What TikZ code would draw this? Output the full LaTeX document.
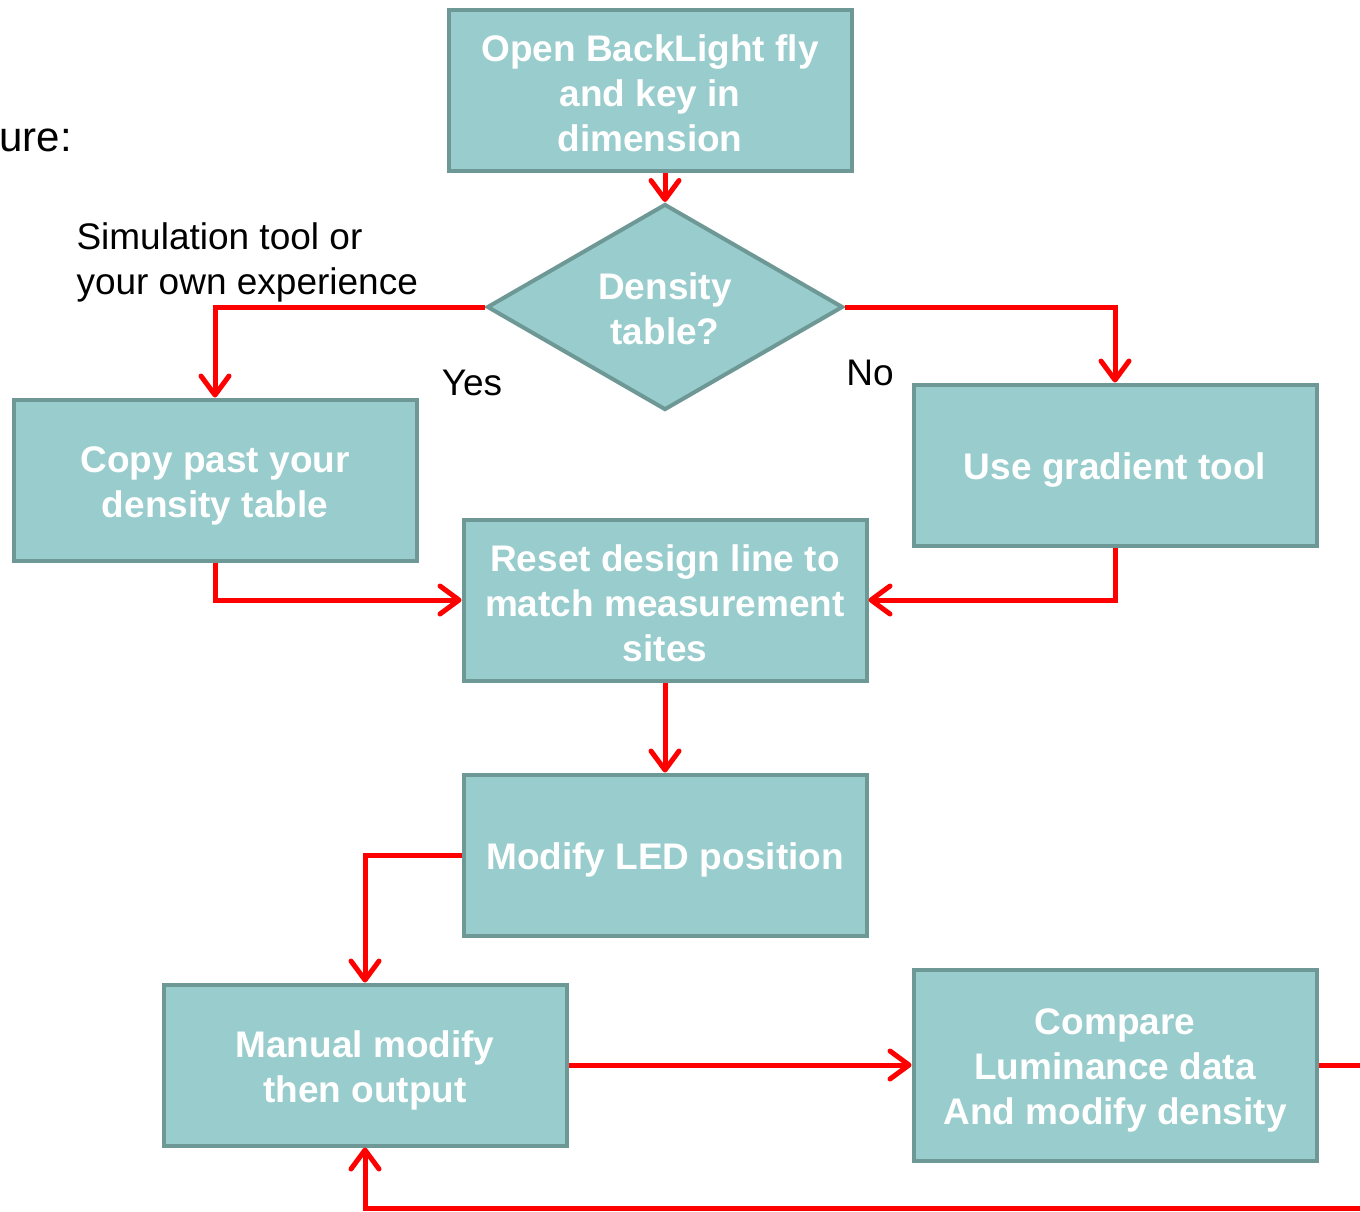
\documentclass[tikz,border=0pt]{standalone}
\usepackage{fontspec}
\setmainfont{Liberation Sans}
\usetikzlibrary{arrows.meta,shapes.geometric}

\definecolor{boxfill}{RGB}{153,204,204}
\definecolor{boxline}{RGB}{110,152,150}

\newcommand{\boxstrut}[1][37pt]{\rule{0pt}{#1}}

\tikzset{
	stepbox/.style={draw=boxline, fill=boxfill, line width=4pt, minimum width=403pt, minimum height=161pt,
		inner sep=0pt, align=center, text=white, font=\fontsize{37}{45}\selectfont\bfseries},
	choice/.style={stepbox, shape=diamond, minimum width=356pt, minimum height=206pt, shape aspect=1.72},
	flow/.style={draw=red, line width=5pt, -{Straight Barb[length=19pt,width=28pt,line cap=round,line join=round]}},
	plain/.style={font=\fontsize{37}{45}\selectfont, align=left}
}

\begin{document}
\begin{tikzpicture}[x=1pt, y=-1pt]
		\useasboundingbox (0,0) rectangle (1360,1211);

		\node[stepbox] (open) at (650, 90) {\boxstrut[33pt]Open BackLight fly\\and key in\\dimension};
		\node[choice] (dens) at (665, 307) {\boxstrut[31pt]Density\\table?};
		\node[stepbox] (copy) at (215, 480) {\boxstrut Copy past your\\density table};
		\node[stepbox] (grad) at (1115, 465) {\boxstrut Use gradient tool};
		\node[stepbox] (reset) at (665, 600) {\boxstrut[33pt]Reset design line to\\match measurement\\sites};
		\node[stepbox] (modify) at (665, 855) {\boxstrut Modify LED position};
		\node[stepbox] (manual) at (365, 1065) {\boxstrut Manual modify\\then output};
		\node[stepbox, minimum height=191pt] (compare) at (1115, 1065) {\boxstrut Compare\\Luminance data\\And modify density};

		\node[plain, anchor=west, font=\fontsize{42}{50}\selectfont] (head) at (-4, 140) {ure:};
		\node[plain, anchor=west] (hint) at (73, 262) {Simulation tool or\\your own experience};
		\node[plain] (yes) at (472, 383) {Yes};
		\node[plain] (no) at (870, 373) {No};

		\coordinate (offr) at (1400, 1065);
		\coordinate (offb) at (1400, 1208);

		\draw[flow] (665, 173) -- (dens.north);
		\draw[flow] (dens.west) -| (copy.north);
		\draw[flow] (dens.east) -| (grad.north);
		\draw[flow] (copy.south) |- (reset.west);
		\draw[flow] (grad.south) |- (reset.east);
		\draw[flow] (reset.south) -- (modify.north);
		\draw[flow] (modify.west) -| (manual.north);
		\draw[flow] (manual.east) -- (compare.west);
		\draw[draw=red, line width=5pt] (compare.east) -- (offr);
		\draw[flow] (offb) -| (manual.south);
	\end{tikzpicture}
\end{document}
